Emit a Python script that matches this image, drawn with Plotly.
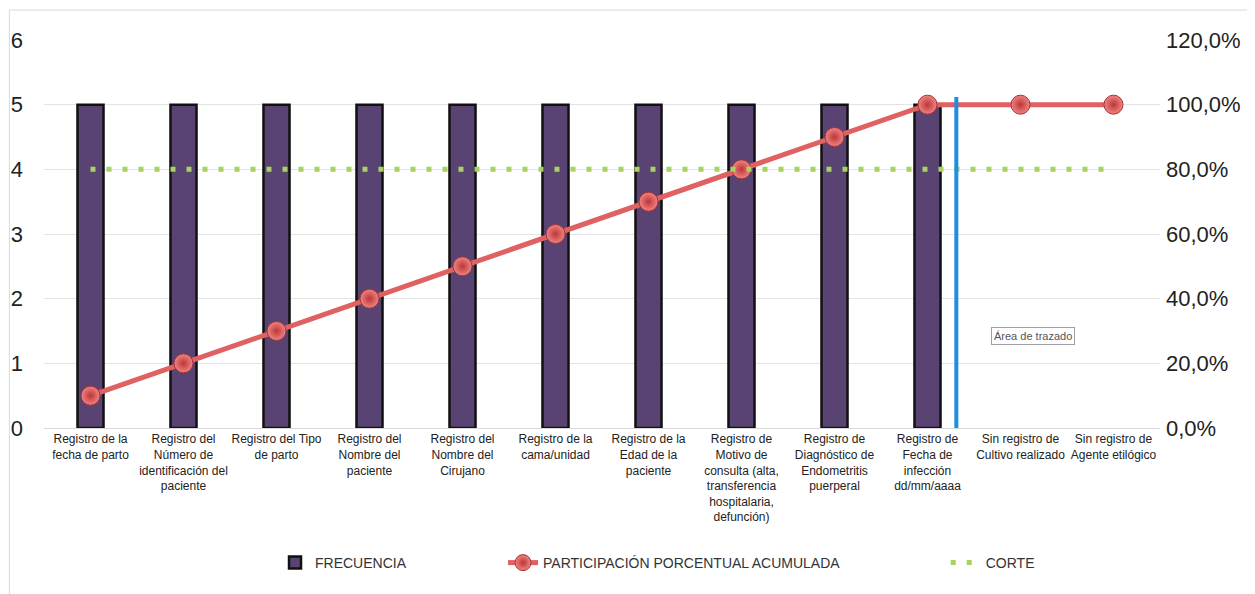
import plotly.graph_objects as go

categories = [
    "Registro de la<br>fecha de parto",
    "Registro del<br>Número de<br>identificación del<br>paciente",
    "Registro del Tipo<br>de parto",
    "Registro del<br>Nombre del<br>paciente",
    "Registro del<br>Nombre del<br>Cirujano",
    "Registro de la<br>cama/unidad",
    "Registro de la<br>Edad de la<br>paciente",
    "Registro de<br>Motivo de<br>consulta (alta,<br>transferencia<br>hospitalaria,<br>defunción)",
    "Registro de<br>Diagnóstico de<br>Endometritis<br>puerperal",
    "Registro de<br>Fecha de<br>infección<br>dd/mm/aaaa",
    "Sin registro de<br>Cultivo realizado",
    "Sin registro de<br>Agente etilógico",
]
frecuencia = [5, 5, 5, 5, 5, 5, 5, 5, 5, 5, 0, 0]
acumulada = [0.10, 0.20, 0.30, 0.40, 0.50, 0.60, 0.70, 0.80, 0.90, 1.00, 1.00, 1.00]
corte = [0.80] * 12
cut_position = 9.31
cut_top = 5.12

x = list(range(len(categories)))
FONT = "Liberation Sans, Arial, sans-serif"

fig = go.Figure()
fig.add_trace(go.Bar(
    x=x, y=frecuencia, name="FRECUENCIA", width=0.28,
    marker=dict(color="#584372",
                line=dict(color="#111111", width=[2.5 if v > 0 else 0 for v in frecuencia])),
    yaxis="y", legend="legend",
))
fig.add_trace(go.Scatter(
    x=x, y=acumulada, name="PARTICIPACIÓN PORCENTUAL ACUMULADA",
    mode="lines+markers",
    line=dict(color="#E06161", width=5),
    marker=dict(size=19, color="#EE8585", line=dict(color="#A83232", width=1),
                gradient=dict(type="radial", color="#BF3535")),
    yaxis="y2", legend="legend2",
))
fig.add_trace(go.Scatter(
    x=x, y=corte, name="CORTE", mode="lines",
    line=dict(color="#A6D45C", width=5, dash="5px,11px"),
    yaxis="y2", legend="legend3",
))

fig.add_shape(type="line", xref="x", yref="y", x0=cut_position, x1=cut_position,
              y0=0, y1=cut_top, line=dict(color="#1E8FE0", width=4))
fig.add_shape(type="rect", xref="paper", yref="paper",
              x0=-0.031, x1=1.0815, y0=-0.45, y1=1.0773,
              line=dict(color="#D9D9D9", width=1), layer="below")

fig.add_annotation(xref="x", yref="y", x=10.13, y=1.42, text="Área de trazado",
                   showarrow=False, font=dict(family=FONT, size=11, color="#555555"),
                   bordercolor="#A0A0A0", borderwidth=1, bgcolor="white", borderpad=2)

legend_common = dict(orientation="h", y=-0.348, yanchor="middle", xanchor="left",
                     font=dict(family=FONT, size=14, color="#333333"),
                     bgcolor="rgba(0,0,0,0)")

fig.update_layout(
    width=1247, height=586,
    margin=dict(l=36, r=95, t=32, b=166, autoexpand=False),
    paper_bgcolor="white", plot_bgcolor="white",
    separators=",.",
    font=dict(family=FONT, color="#222222"),
    showlegend=True,
    legend=dict(x=0.207, **legend_common),
    legend2=dict(x=0.4113, **legend_common),
    legend3=dict(x=0.808, **legend_common),
    xaxis=dict(
        tickmode="array", tickvals=x, ticktext=categories,
        range=[-0.5, 11.5], showgrid=False, zeroline=False,
        showline=True, linecolor="#D9D9D9", linewidth=1,
        tickfont=dict(family=FONT, size=12, color="#222222"),
        ticks="", tickangle=0, automargin=False,
    ),
    yaxis=dict(
        range=[0, 6], dtick=1, showgrid=True, gridcolor="#E4E4E4", gridwidth=1,
        zeroline=False, tickfont=dict(family=FONT, size=22, color="#222222"),
        ticks="", ticklabelstandoff=20, automargin=False,
    ),
    yaxis2=dict(
        range=[0, 1.2], dtick=0.2, tickformat=".1%", overlaying="y", side="right",
        showgrid=False, zeroline=False, ticklabelstandoff=5, automargin=False,
        tickfont=dict(family=FONT, size=22, color="#222222"),
    ),
)

fig.write_html("out.html")
